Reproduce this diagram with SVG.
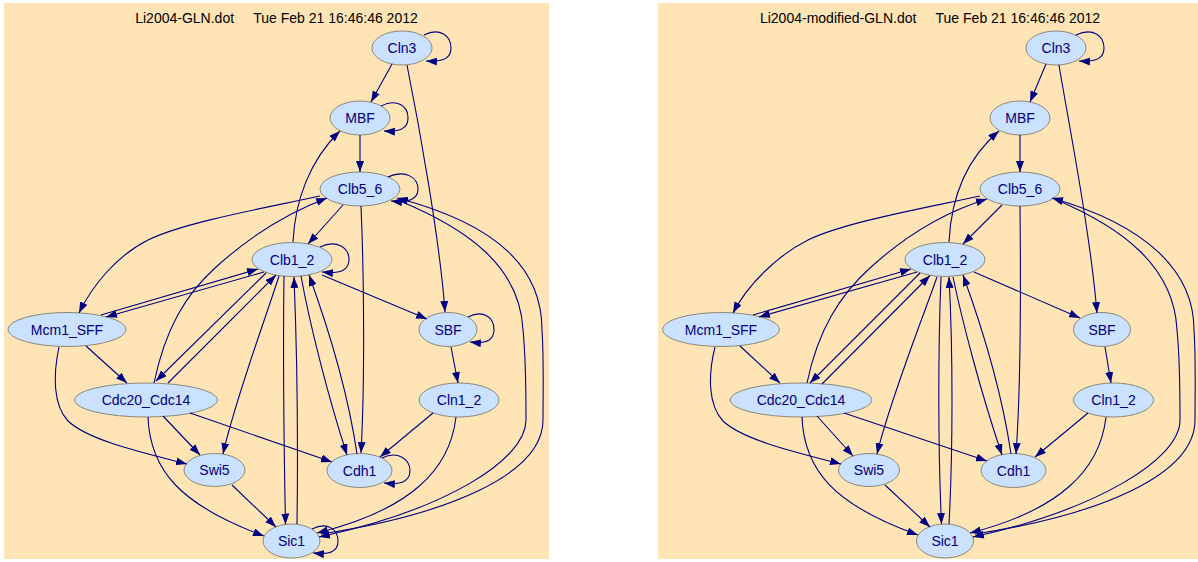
<svg xmlns="http://www.w3.org/2000/svg" width="1198" height="562" viewBox="0 0 1198 562">
<defs>
<style>
.bg{fill:#FFE4B5}
.node ellipse{fill:#CAE1FF;stroke:#8B8878;stroke-width:1}
.node text{font-family:"Liberation Sans",Arial,sans-serif;font-size:14px;fill:#000080;text-anchor:middle}
.title{font-family:"Liberation Sans",Arial,sans-serif;font-size:14px;fill:#000000;text-anchor:middle}
.edges path{fill:none;stroke:#000080;stroke-width:1.1;marker-end:url(#arrow)}
</style>
<marker id="arrow" viewBox="0 0 11 8" refX="11" refY="4" markerWidth="11" markerHeight="8" markerUnits="userSpaceOnUse" orient="auto">
<path d="M0,0 L11,4 L0,8 z" fill="#000080"/>
</marker>
</defs>
<rect width="1198" height="562" fill="#ffffff"/>

<g id="panel-left">
<rect class="bg" x="4" y="3" width="545" height="556"/>
<text class="title" x="276.5" y="23" xml:space="preserve">Li2004-GLN.dot     Tue Feb 21 16:46:46 2012</text>
<g id="L-Cln3" class="node"><ellipse cx="402" cy="48" rx="30" ry="17"/><text x="402" y="53">Cln3</text></g>
<g id="L-MBF" class="node"><ellipse cx="360" cy="118" rx="30" ry="17"/><text x="360" y="123">MBF</text></g>
<g id="L-Clb5_6" class="node"><ellipse cx="360" cy="189" rx="40" ry="17"/><text x="360" y="194">Clb5_6</text></g>
<g id="L-Clb1_2" class="node"><ellipse cx="292" cy="259.5" rx="40" ry="17"/><text x="292" y="264.5">Clb1_2</text></g>
<g id="L-Mcm1_SFF" class="node"><ellipse cx="67" cy="329.5" rx="59" ry="17"/><text x="67" y="334.5">Mcm1_SFF</text></g>
<g id="L-SBF" class="node"><ellipse cx="448" cy="329.5" rx="29" ry="17"/><text x="448" y="334.5">SBF</text></g>
<g id="L-Cdc20_Cdc14" class="node"><ellipse cx="146" cy="400" rx="71.5" ry="17"/><text x="146" y="405">Cdc20_Cdc14</text></g>
<g id="L-Cln1_2" class="node"><ellipse cx="459" cy="400" rx="40" ry="17"/><text x="459" y="405">Cln1_2</text></g>
<g id="L-Swi5" class="node"><ellipse cx="214.5" cy="470" rx="30.5" ry="16.5"/><text x="214.5" y="475">Swi5</text></g>
<g id="L-Cdh1" class="node"><ellipse cx="359.5" cy="470.5" rx="32.5" ry="17"/><text x="359.5" y="475.5">Cdh1</text></g>
<g id="L-Sic1" class="node"><ellipse cx="291.5" cy="541" rx="28.5" ry="17"/><text x="291.5" y="546">Sic1</text></g>
<g id="L-edges" class="edges">
<path d="M424,35 C440,27 451,36 451,48 C451,58 444,62 426,61"/>
<path d="M392,64 L371,102"/>
<path d="M407,65 C418,120 440,240 445,312"/>
<path d="M381,106 C397,98 408,106 408,118 C408,128 401,132 384,131"/>
<path d="M360,135 L360,172"/>
<path d="M293,242 C295,200 310,160 340,131"/>
<path d="M388,177 C406,169 418,178 418,189 C418,199 409,203 391,201"/>
<path d="M343,205 L308,244"/>
<path d="M320,196 C265,208 185,222 148,240 C118,255 93,284 79,313"/>
<path d="M361,206 C365,300 364,400 361,453"/>
<path d="M400,201 C465,228 520,265 523,330 C526,360 526,400 526,420 C526,460 445,510 319,537"/>
<path d="M321,534 C446,515 543,475 543,420 C543,390 544,360 542,330 C542,270 500,225 397,198"/>
<path d="M154,383 C165,330 185,295 215,268 C250,236 290,212 327,198"/>
<path d="M320,247 C337,239 349,248 349,259.5 C349,270 341,274 322,272"/>
<path d="M101,315 L258,269"/>
<path d="M264,272 L106,317"/>
<path d="M266,273 L156,381"/>
<path d="M168,383 L276,275"/>
<path d="M279,276 C265,320 235,400 223,454"/>
<path d="M284,276 C283,350 284,450 285.5,524.5"/>
<path d="M297,524 C298,450 297,350 294,277"/>
<path d="M301,276 C309,320 326,390 347,455"/>
<path d="M357,454 C352,420 340,360 309,275"/>
<path d="M322,275 L427,319"/>
<path d="M468,317 C484,309 494,318 494,329.5 C494,340 487,344 470,342"/>
<path d="M451,347 L458,383"/>
<path d="M433,413 L380,457"/>
<path d="M456,417 C450,470 410,510 317,533"/>
<path d="M382,458 C398,450 410,460 410,470.5 C410,481 402,485 384,483"/>
<path d="M86,346 L127,383"/>
<path d="M59,347 C53,375 53,405 68,421 C88,440 140,452 187,464"/>
<path d="M163,416 L200,455"/>
<path d="M190,413 L332,462"/>
<path d="M148,417 C150,470 180,505 264,536"/>
<path d="M232,485 L276,527"/>
<path d="M312,529 C328,521 338,530 338,541 C338,551 331,555 313,553"/>
</g>
</g>

<g id="panel-right">
<rect class="bg" x="658" y="3" width="545" height="556"/>
<text class="title" x="930" y="23" xml:space="preserve">Li2004-modified-GLN.dot     Tue Feb 21 16:46:46 2012</text>
<g id="R-Cln3" class="node"><ellipse cx="1056" cy="48" rx="30" ry="17"/><text x="1056" y="53">Cln3</text></g>
<g id="R-MBF" class="node"><ellipse cx="1020" cy="118" rx="30" ry="17"/><text x="1020" y="123">MBF</text></g>
<g id="R-Clb5_6" class="node"><ellipse cx="1020" cy="189" rx="40" ry="17"/><text x="1020" y="194">Clb5_6</text></g>
<g id="R-Clb1_2" class="node"><ellipse cx="945" cy="259.5" rx="40" ry="17"/><text x="945" y="264.5">Clb1_2</text></g>
<g id="R-Mcm1_SFF" class="node"><ellipse cx="721" cy="329.5" rx="58.5" ry="17"/><text x="721" y="334.5">Mcm1_SFF</text></g>
<g id="R-SBF" class="node"><ellipse cx="1102" cy="329.5" rx="28.5" ry="17"/><text x="1102" y="334.5">SBF</text></g>
<g id="R-Cdc20_Cdc14" class="node"><ellipse cx="801" cy="400" rx="71" ry="17"/><text x="801" y="405">Cdc20_Cdc14</text></g>
<g id="R-Cln1_2" class="node"><ellipse cx="1113.5" cy="400" rx="40" ry="17"/><text x="1113.5" y="405">Cln1_2</text></g>
<g id="R-Swi5" class="node"><ellipse cx="869" cy="470" rx="30.5" ry="16.5"/><text x="869" y="475">Swi5</text></g>
<g id="R-Cdh1" class="node"><ellipse cx="1013.5" cy="470.5" rx="32.5" ry="17"/><text x="1013.5" y="475.5">Cdh1</text></g>
<g id="R-Sic1" class="node"><ellipse cx="945" cy="541" rx="28.5" ry="17"/><text x="945" y="546">Sic1</text></g>
<g id="R-edges" class="edges">
<path d="M1076,35 C1093,27 1104,36 1104,48 C1104,58 1097,62 1079,61"/>
<path d="M1046,64 L1030,102"/>
<path d="M1059,65 C1068,120 1090,230 1097,313"/>
<path d="M1020,135 L1020,172"/>
<path d="M949,242 C951,200 965,160 999,131"/>
<path d="M1002,205 L963,244"/>
<path d="M980,196 C925,208 845,222 808,240 C778,255 748,284 733,313"/>
<path d="M1020,206 C1021,300 1020,400 1016,454"/>
<path d="M1057,200 C1120,227 1174,265 1177,330 C1180,360 1180,400 1180,420 C1180,460 1095,510 973,537"/>
<path d="M975,534 C1100,515 1195,475 1195,420 C1195,390 1196,360 1194,330 C1194,270 1145,225 1052,198"/>
<path d="M807,383 C818,330 840,295 870,268 C905,236 945,212 987,199"/>
<path d="M753,315 L911,269"/>
<path d="M917,272 L759,317"/>
<path d="M920,273 L810,383"/>
<path d="M822,384 L930,275.5"/>
<path d="M937,277 C922,320 890,400 877,454"/>
<path d="M941,277 C938,350 938,450 941.5,524"/>
<path d="M949,524 C953,450 953,350 949,277"/>
<path d="M953,277 C962,320 980,390 1002,455"/>
<path d="M1011,454 C1006,420 994,360 963,275"/>
<path d="M974,272 L1080,318"/>
<path d="M1105,347 L1111,383"/>
<path d="M1088,413 L1035,457"/>
<path d="M1106,417 C1100,470 1060,510 970,533"/>
<path d="M740,346 L780,383"/>
<path d="M715,347 C708,375 708,405 723,421 C743,440 795,452 841,464"/>
<path d="M817,416 L853,456"/>
<path d="M844,413 L987,461"/>
<path d="M802,417 C804,470 834,505 918,535"/>
<path d="M885,485 L930,527"/>
</g>
</g>
</svg>
